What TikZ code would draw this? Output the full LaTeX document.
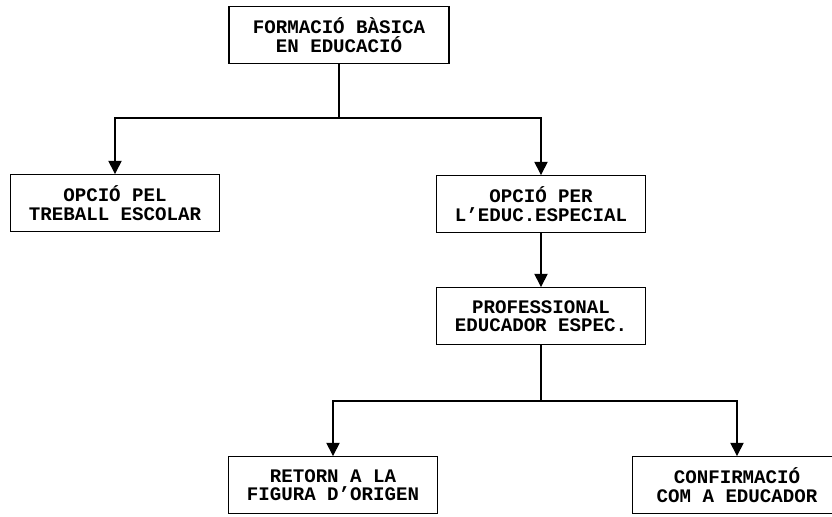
\documentclass[tikz,border=0pt]{standalone}
\usepackage{fontspec}
\setmonofont{Liberation Mono}
\usepackage{tikz}
\usetikzlibrary{arrows.meta}

\tikzset{
  caixa/.style={draw, thick, minimum width=4.18cm, minimum height=1.13cm, align=center,
    inner sep=0pt, font=\ttfamily\bfseries\fontsize{10.9}{10.6}\selectfont},
  fletxa/.style={thick, -{Triangle[width=7.5pt,length=7.5pt]}}
}

\begin{document}
\begin{tikzpicture}[x=0.02cm, y=-0.02cm]
        \useasboundingbox (0,0) rectangle (832,517);
        \fill[white] (0,0) rectangle (832,517);

        \node[caixa, minimum width=4.4cm] (basica) at (339,35) {FORMACIÓ BÀSICA\\EN EDUCACIÓ};
        \node[caixa] (escolar) at (115,203) {OPCIÓ PEL\\TREBALL ESCOLAR};
        \node[caixa] (especial) at (541,204) {OPCIÓ PER\\L’EDUC.ESPECIAL};
        \node[caixa] (profes) at (541,316) {PROFESSIONAL\\EDUCADOR ESPEC.};
        \node[caixa] (retorn) at (333,485) {RETORN A LA\\FIGURA D’ORIGEN};
        \node[caixa] (confirma) at (737,485) {CONFIRMACIÓ\\COM A EDUCADOR};

        \coordinate (branca1) at (339,118);
        \coordinate (branca2) at (541,401);

        \draw[thick] (basica.south) -- (branca1);
        \draw[fletxa] (branca1) -| (escolar.north);
        \draw[fletxa] (branca1) -| (especial.north);
        \draw[fletxa] (especial.south) -- (profes.north);
        \draw[thick] (profes.south) -- (branca2);
        \draw[fletxa] (branca2) -| (retorn.north);
        \draw[fletxa] (branca2) -| (confirma.north);
    \end{tikzpicture}
\end{document}
